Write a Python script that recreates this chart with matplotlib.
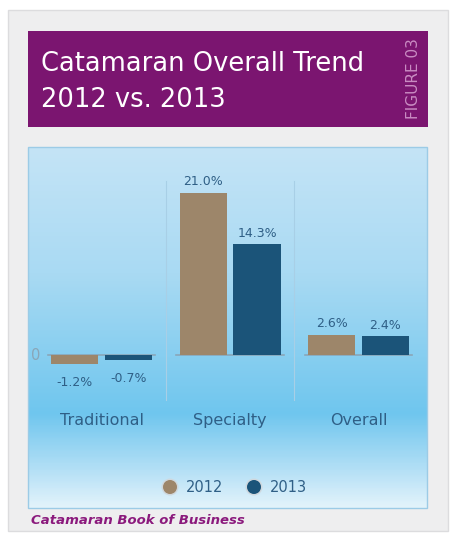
import numpy as np
import matplotlib
matplotlib.use('Agg')
import matplotlib.pyplot as plt
from matplotlib.colors import LinearSegmentedColormap
from matplotlib.patches import Rectangle, Circle

# dane
categories = ['Traditional', 'Specialty', 'Overall']
years = ['2012', '2013']
values_2012 = [-1.2, 21.0, 2.6]
values_2013 = [-0.7, 14.3, 2.4]
labels_2012 = ['-1.2%', '21.0%', '2.6%']
labels_2013 = ['-0.7%', '14.3%', '2.4%']

c2012 = '#9d866a'
c2013 = '#1b5479'
txt = '#2f5f86'
purple = '#7b1570'

W, H = 457, 545
fig = plt.figure(figsize=(W / 100, H / 100), dpi=100)
fig.patch.set_facecolor('white')

# tlo w pikselach
bg = fig.add_axes([0, 0, 1, 1])
bg.set_xlim(0, W)
bg.set_ylim(H, 0)
bg.axis('off')
bg.add_patch(Rectangle((8, 10), 440, 521, facecolor='#eeeeef', edgecolor='#dcdcde', lw=1))
bg.add_patch(Rectangle((28, 31), 400, 96, facecolor=purple, edgecolor='none'))
bg.text(41, 64, 'Catamaran Overall Trend', color='white', fontsize=18.5,
        va='center', ha='left', family='DejaVu Sans')
bg.text(41, 100, '2012 vs. 2013', color='white', fontsize=18.5,
        va='center', ha='left', family='DejaVu Sans')
bg.text(413, 79, 'FIGURE 03', color='#c98bc2', fontsize=11, rotation=90,
        va='center', ha='center', family='DejaVu Sans')

grad = LinearSegmentedColormap.from_list(
    'g', [(0, '#c4e4f6'), (0.35, '#a9daf3'), (0.74, '#6fc6ee'), (0.9, '#b5e0f6'), (1, '#e2f3fb')])
bg.imshow(np.linspace(0, 1, 200).reshape(-1, 1), cmap=grad, aspect='auto',
          extent=[28, 427, 508, 147], zorder=1)
bg.add_patch(Rectangle((28, 147), 399, 361, facecolor='none', edgecolor='#9ccbe6', lw=1, zorder=2))
bg.text(31, 520, 'Catamaran Book of Business', color='#8b1a7d', fontsize=9.5,
        fontweight='bold', fontstyle='italic', va='center', ha='left', family='DejaVu Sans')

# wykres
ax = fig.add_axes([28 / W, (H - 508) / H, 399 / W, 361 / H])
ax.patch.set_alpha(0)
ax.set_xlim(-0.572, 2.533)
ax.set_ylim((355 - 508) / 7.73, (355 - 147) / 7.73)
ax.axis('off')

x = np.arange(len(categories))
off = 0.21
bw = 0.366
ax.bar(x - off, values_2012, bw, color=c2012, zorder=3)
ax.bar(x + off, values_2013, bw, color=c2013, zorder=3)

for i in x:
    ax.plot([i - 0.42, i + 0.42], [0, 0], color='#8aa6b8', lw=1.2, zorder=2)
for s in [0.5, 1.5]:
    ax.plot([s, s], [22.5, -5.8], color='#a8cfe6', lw=0.8, zorder=2)

for xs, vals, labs in [(x - off, values_2012, labels_2012), (x + off, values_2013, labels_2013)]:
    for xi, v, lab in zip(xs, vals, labs):
        if v >= 0:
            ax.text(xi, v + 0.6, lab, ha='center', va='bottom', color=txt, fontsize=9)
        else:
            ax.text(xi, v - 1.5, lab, ha='center', va='top', color=txt, fontsize=9)

ax.text(-0.55, 0, '0', ha='left', va='center', color='#8aa6b8', fontsize=10.5)

for i, c in enumerate(categories):
    ax.text(i, -8.5, c, ha='center', va='center', color=txt, fontsize=11.5)

# legenda
for cx, col, lab in [(170, c2012, years[0]), (254, c2013, years[1])]:
    bg.add_patch(Circle((cx, 487), 8.5, facecolor='#cfd8de', edgecolor='none', zorder=3))
    bg.add_patch(Circle((cx, 487), 7, facecolor=col, edgecolor='none', zorder=4))
    bg.text(cx + 16, 488, lab, ha='left', va='center', color=txt, fontsize=10.5, zorder=4)

fig.savefig('out.png', dpi=100)
